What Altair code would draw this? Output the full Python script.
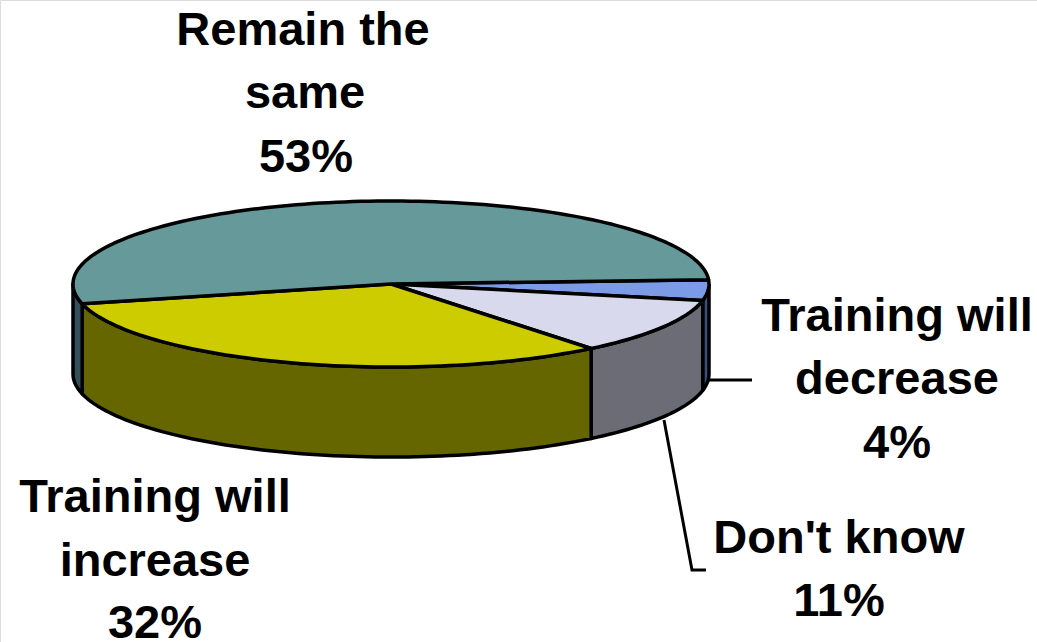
import math
import altair as alt
import pandas as pd

# Survey shares, in the order they run clockwise from the right-hand edge
categories = ["Training will decrease", "Don't know", "Training will increase", "Remain the same"]
shares = [4, 11, 32, 53]
top_colors = ["#7B9BE6", "#D9D9ED", "#CCCC00", "#669999"]
wall_colors = ["#3E4E7A", "#6C6C76", "#666600", "#33505A"]

# Tilted-disc geometry
CX, CY, RX, RY = 391, 284, 318, 83
DEPTH = 90
START_DEG = -3

# Label rows: text, centre x, baseline y
label_text = ["Remain the", "same", "53%",
              "Training will", "decrease", "4%",
              "Don't know", "11%",
              "Training will", "increase", "32%"]
label_x = [303, 305, 306, 897, 897, 897, 839, 839, 155, 155, 155]
label_y = [45, 108, 172, 331, 394, 458, 553, 616, 512, 576, 638]

# Leader lines from the disc to their labels
leader_id = ["a", "a", "b", "b", "b"]
leader_x = [709, 752, 664, 692, 706]
leader_y = [380, 380, 420, 570, 570]


def rim(deg, drop=0):
    t = math.radians(deg)
    return CX + RX * math.cos(t), CY + RY * math.sin(t) + drop


def arc_angles(a, b):
    n = max(2, int(abs(b - a) / 1.5) + 1)
    return [a + (b - a) * i / n for i in range(n + 1)]


rows = []


def add_shape(name, color, pts):
    for i, (x, y) in enumerate(pts + pts[:1]):
        rows.append({"shape": name, "color": color, "i": i, "x": x, "y": y})


# Sweep each category's share into start/end angles
bounds = []
angle = START_DEG
for s in shares:
    bounds.append((angle, angle + 3.6 * s))
    angle += 3.6 * s

# Outer walls: only the part of each slice on the near side of the disc
for cat, wall, (a, b) in zip(categories, wall_colors, bounds):
    lo, hi = max(a, 0), min(b, 180)
    if lo < hi:
        angles = arc_angles(lo, hi)
        front = [rim(t) for t in angles]
        back = [rim(t, DEPTH) for t in reversed(angles)]
        add_shape("wall " + cat, wall, front + back)

# Top faces
for cat, top, (a, b) in zip(categories, top_colors, bounds):
    add_shape("top " + cat, top, [(CX, CY)] + [rim(t) for t in arc_angles(a, b)])

shapes = pd.DataFrame(rows)
labels = pd.DataFrame({"text": label_text, "x": label_x, "y": label_y})
leaders = pd.DataFrame({"id": leader_id, "x": leader_x, "y": leader_y,
                        "i": range(len(leader_x))})

x_enc = alt.X("x:Q", scale=alt.Scale(domain=[0, 1037]), axis=None)
y_enc = alt.Y("y:Q", scale=alt.Scale(domain=[642, 0]), axis=None)

leader_layer = alt.Chart(leaders).mark_line(color="black", strokeWidth=3).encode(
    x=x_enc, y=y_enc, detail="id:N", order="i:Q"
)

disc_layer = alt.Chart(shapes).mark_line(
    stroke="black", strokeWidth=3.5, strokeJoin="round"
).encode(
    x=x_enc, y=y_enc,
    detail="shape:N",
    order="i:Q",
    fill=alt.Fill("color:N", scale=None),
)

text_layer = alt.Chart(labels).mark_text(
    font="Liberation Sans", fontWeight="bold", fontSize=47,
    align="center", baseline="alphabetic", color="black"
).encode(x=x_enc, y=y_enc, text="text:N")

chart = alt.layer(leader_layer, disc_layer, text_layer).properties(
    width=1037, height=642, padding=0,
    autosize=alt.AutoSizeParams(type="none"),
).configure_view(stroke=None).configure(background="white")

chart.save("out.html", embed_options={"renderer": "svg", "actions": False})
